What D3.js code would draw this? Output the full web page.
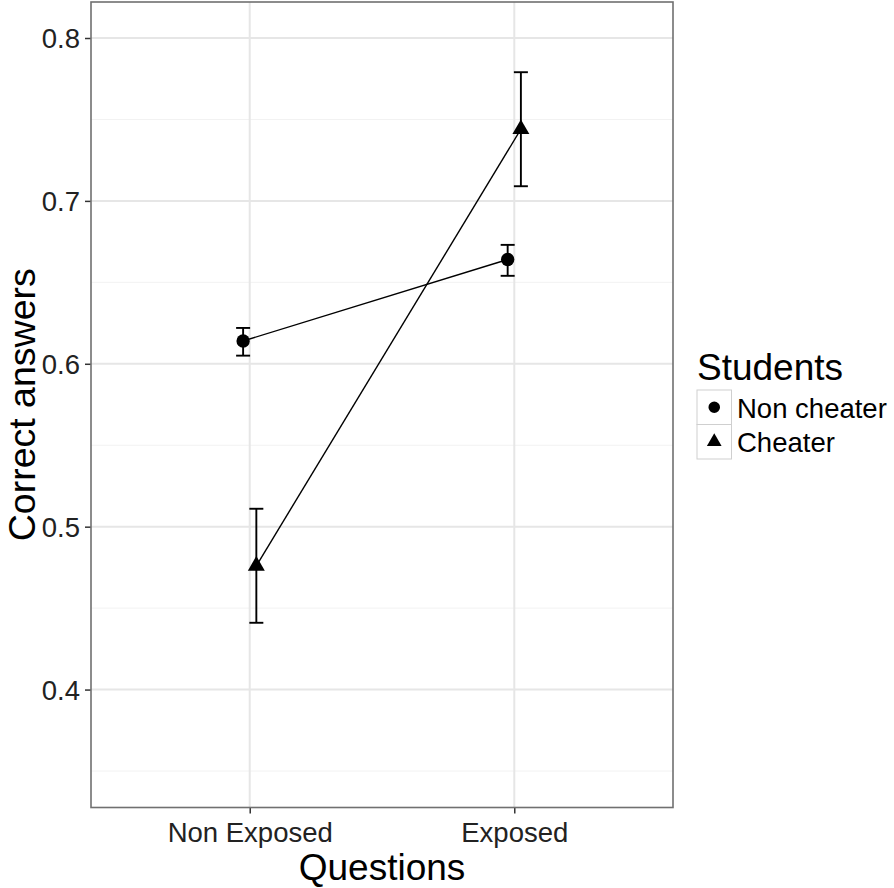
<!DOCTYPE html>
<html>
<head>
<meta charset="utf-8">
<script src="https://cdn.jsdelivr.net/npm/d3@7"></script>
<style>
  html, body { margin: 0; padding: 0; background: #fff; }
  svg { display: block; font-family: "Liberation Sans", Arial, sans-serif; }
</style>
</head>
<body>
<svg id="chart" width="894" height="888"></svg>
<script>
const categories = ["Non Exposed", "Exposed"];
const groups = ["Non cheater", "Cheater"];
const nonCheaterMean = [0.614, 0.664];
const nonCheaterLow = [0.605, 0.654];
const nonCheaterHigh = [0.622, 0.673];
const cheaterMean = [0.476, 0.744];
const cheaterLow = [0.441, 0.709];
const cheaterHigh = [0.511, 0.779];
const yTicks = [0.4, 0.5, 0.6, 0.7, 0.8];
const yMinorTicks = [0.35, 0.45, 0.55, 0.65, 0.75];
const yDomain = [0.3276, 0.8221];
const xTitle = "Questions";
const yTitle = "Correct answers";
const legendTitle = "Students";

const series = [
  { name: groups[0], mean: nonCheaterMean, low: nonCheaterLow, high: nonCheaterHigh, shape: d3.symbolCircle, size: 140, dodge: -1 },
  { name: groups[1], mean: cheaterMean, low: cheaterLow, high: cheaterHigh, shape: d3.symbolTriangle, size: 125, dodge: 1 }
];

const panel = { left: 91, right: 673, top: 2, bottom: 807.5 };
const svg = d3.select("#chart");

const x = d3.scalePoint().domain(categories).range([panel.left, panel.right]).padding(0.6);
const y = d3.scaleLinear().domain(yDomain).range([panel.bottom, panel.top]);
const dodgePx = 0.025 * x.step();

// panel background
svg.append("rect").attr("x", panel.left).attr("y", panel.top)
  .attr("width", panel.right - panel.left).attr("height", panel.bottom - panel.top)
  .attr("fill", "#fff");

// gridlines
const grid = svg.append("g");
grid.selectAll(".minor").data(yMinorTicks).join("line")
  .attr("x1", panel.left).attr("x2", panel.right)
  .attr("y1", d => y(d)).attr("y2", d => y(d))
  .attr("stroke", "#f2f2f2").attr("stroke-width", 1);
grid.selectAll(".majorY").data(yTicks).join("line")
  .attr("x1", panel.left).attr("x2", panel.right)
  .attr("y1", d => y(d)).attr("y2", d => y(d))
  .attr("stroke", "#e6e6e6").attr("stroke-width", 2);
grid.selectAll(".majorX").data(categories).join("line")
  .attr("x1", d => x(d)).attr("x2", d => x(d))
  .attr("y1", panel.top).attr("y2", panel.bottom)
  .attr("stroke", "#e6e6e6").attr("stroke-width", 2);

// axes
const yAxis = svg.append("g").attr("transform", `translate(${panel.left},0)`)
  .call(d3.axisLeft(y).tickValues(yTicks).tickFormat(d3.format(".1f")).tickSize(6).tickPadding(5));
const xAxis = svg.append("g").attr("transform", `translate(0,${panel.bottom})`)
  .call(d3.axisBottom(x).tickSize(6).tickPadding(8));
[yAxis, xAxis].forEach(a => {
  a.select(".domain").remove();
  a.selectAll(".tick line").attr("stroke", "#333").attr("stroke-width", 1.5);
  a.selectAll(".tick text").attr("fill", "#222").style("font-size", "27.5px")
    .style("font-family", "\"Liberation Sans\", Arial, sans-serif");
});
yAxis.selectAll(".tick text").attr("dy", "0.36em");
xAxis.selectAll(".tick text").attr("dy", "0.76em");

// lines
const line = d3.line().x(d => d[0]).y(d => d[1]);
series.forEach(s => {
  const pts = categories.map((c, i) => [x(c) + s.dodge * dodgePx, y(s.mean[i])]);
  svg.append("path").attr("d", line(pts)).attr("fill", "none")
    .attr("stroke", "#000").attr("stroke-width", 1.4);
});

// error bars
const capHalf = 7;
series.forEach(s => {
  const g = svg.append("g").attr("stroke", "#000").attr("stroke-width", 1.9);
  categories.forEach((c, i) => {
    const cx = x(c) + s.dodge * dodgePx;
    g.append("line").attr("x1", cx).attr("x2", cx).attr("y1", y(s.low[i])).attr("y2", y(s.high[i]));
    g.append("line").attr("x1", cx - capHalf).attr("x2", cx + capHalf).attr("y1", y(s.low[i])).attr("y2", y(s.low[i]));
    g.append("line").attr("x1", cx - capHalf).attr("x2", cx + capHalf).attr("y1", y(s.high[i])).attr("y2", y(s.high[i]));
  });
});

// points
series.forEach(s => {
  const sym = d3.symbol().type(s.shape).size(s.size);
  categories.forEach((c, i) => {
    svg.append("path").attr("d", sym())
      .attr("transform", `translate(${x(c) + s.dodge * dodgePx},${y(s.mean[i])})`)
      .attr("fill", "#000");
  });
});

// panel border
svg.append("rect").attr("x", panel.left).attr("y", panel.top)
  .attr("width", panel.right - panel.left).attr("height", panel.bottom - panel.top)
  .attr("fill", "none").attr("stroke", "#707070").attr("stroke-width", 1.6);

// axis titles
svg.append("text").attr("x", (panel.left + panel.right) / 2).attr("y", 880)
  .attr("text-anchor", "middle").style("font-size", "37px").attr("fill", "#000").text(xTitle);
svg.append("text").attr("transform", `translate(35,${(panel.top + panel.bottom) / 2}) rotate(-90)`)
  .attr("text-anchor", "middle").style("font-size", "37.5px").attr("fill", "#000").text(yTitle);

// legend
const lg = svg.append("g");
lg.append("text").attr("x", 697).attr("y", 380).style("font-size", "37px").attr("fill", "#000").text(legendTitle);
series.forEach((s, i) => {
  const top = 390 + i * 34.5;
  lg.append("rect").attr("x", 697).attr("y", top).attr("width", 34.5).attr("height", 34.5)
    .attr("fill", "#fff").attr("stroke", "#cfcfcf").attr("stroke-width", 1);
  lg.append("path").attr("d", d3.symbol().type(s.shape).size(s.size * 0.75)())
    .attr("transform", `translate(${697 + 17.25},${top + 17.25})`).attr("fill", "#000");
  lg.append("text").attr("x", 737).attr("y", top + 27.5).style("font-size", "27.5px")
    .attr("fill", "#000").text(s.name);
});
</script>
</body>
</html>
